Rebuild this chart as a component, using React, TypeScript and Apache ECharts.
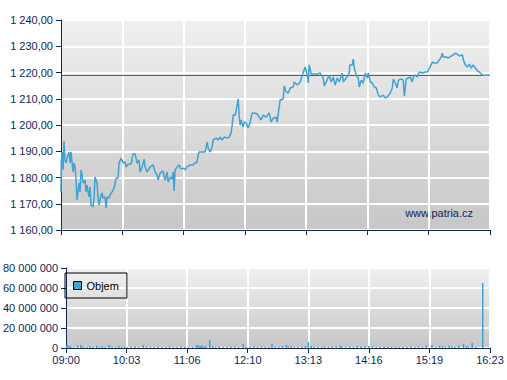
import React, { useEffect, useRef } from "react";
import * as echarts from "echarts";

// minutes after 09:00
const priceTimes = [
  0, 0.3, 1.0, 2.1, 3.1, 4.1, 5.2, 6.2, 8.3, 9.3, 10.3, 12.4, 13.4, 14.5, 15.5, 16.5, 18.6, 19.6, 20.7, 21.7,
  22.7, 24.8, 25.8, 26.8, 28.9, 29.9, 31.0, 33.0, 34.1, 35.1, 37.2, 38.2, 39.2, 41.3, 42.3, 43.4, 45.4, 46.5, 47.5, 49.6,
  51.6, 52.7, 54.7, 56.8, 58.9, 59.9, 62.0, 64.0, 66.1, 67.1, 69.2, 72.3, 74.3, 76.4, 78.5, 80.5, 81.6, 83.6, 85.7, 86.7,
  88.8, 91.9, 95.0, 97.1, 99.1, 100.2, 102.2, 105.3, 106.4, 107.4, 109.5, 110.5, 112.6, 114.6, 115.7, 116.7, 117.7, 119.8, 121.8, 123.9,
  126.0, 128.0, 130.1, 133.2, 136.3, 138.4, 140.4, 141.5, 142.5, 145.6, 148.7, 150.8, 151.8, 153.9, 155.9, 157.0, 160.1, 162.1, 164.2, 166.2,
  168.3, 171.4, 173.5, 175.5, 176.6, 177.6, 179.7, 181.7, 182.8, 183.8, 184.8, 185.9, 187.9, 189.0, 191.0, 193.1, 195.2, 197.2, 199.3, 202.4,
  204.5, 206.5, 208.6, 211.7, 214.8, 216.8, 218.9, 222.0, 223.0, 225.1, 226.1, 229.2, 230.3, 232.3, 234.4, 236.5, 239.6, 240.6, 243.7, 246.8,
  248.9, 252.0, 254.0, 255.1, 256.1, 258.2, 264.3, 267.4, 270.5, 271.6, 273.6, 276.7, 278.8, 280.9, 282.9, 285.0, 287.1, 290.2, 291.2, 294.3,
  297.4, 297.9, 300.5, 301.5, 302.6, 304.6, 306.7, 307.7, 309.8, 311.8, 313.9, 316.0, 317.0, 319.1, 321.1, 323.2, 325.3, 327.3, 329.4, 332.5,
  334.6, 336.6, 339.7, 341.8, 342.8, 344.9, 346.9, 348.0, 351.1, 353.1, 354.2, 356.2, 358.3, 360.4, 362.4, 363.5, 365.5, 367.6, 369.7, 372.8,
  375.9, 377.9, 381.0, 383.1, 385.1, 388.2, 390.3, 392.4, 393.4, 394.4, 397.5, 399.6, 402.7, 404.8, 406.8, 408.9, 411.0, 414.1, 415.1, 417.2,
  419.2, 421.3, 423.4, 425.4, 427.5, 429.6, 431.6, 433.7, 434.8, 442.6,
];

const prices = [
  1174.5, 1185.5, 1189.7, 1182.9, 1193.9, 1186.7, 1185.5, 1187.4, 1189.7, 1185.5, 1189.7, 1182.1, 1185.5, 1184.0, 1179.0, 1171.4, 1177.9, 1174.5, 1182.9, 1181.0,
  1177.9, 1179.0, 1174.5, 1177.1, 1172.6, 1176.4, 1169.5, 1168.8, 1172.2, 1180.2, 1177.9, 1172.6, 1169.5, 1173.3, 1174.1, 1172.2, 1172.6, 1168.4, 1172.6, 1172.2,
  1174.1, 1174.5, 1176.0, 1179.8, 1179.8, 1185.5, 1187.4, 1185.5, 1185.9, 1184.0, 1185.1, 1185.1, 1189.0, 1189.0, 1185.5, 1186.7, 1182.1, 1184.0, 1187.0, 1184.0,
  1182.1, 1184.0, 1184.8, 1182.1, 1181.0, 1179.0, 1181.7, 1182.5, 1180.2, 1179.0, 1182.1, 1178.3, 1180.2, 1179.4, 1182.1, 1174.9, 1182.9, 1184.0, 1184.8, 1183.2,
  1183.6, 1182.9, 1184.0, 1184.8, 1184.8, 1185.5, 1185.9, 1188.6, 1189.7, 1189.7, 1189.7, 1193.5, 1191.2, 1189.7, 1191.6, 1194.3, 1195.0, 1194.3, 1195.4, 1194.3,
  1195.4, 1195.0, 1195.4, 1197.0, 1200.0, 1203.8, 1203.8, 1207.6, 1209.9, 1203.8, 1200.0, 1201.9, 1199.2, 1201.1, 1200.8, 1198.9, 1201.1, 1204.6, 1204.6, 1204.2,
  1203.0, 1201.9, 1203.8, 1203.0, 1204.6, 1201.1, 1202.6, 1203.0, 1201.1, 1206.9, 1209.5, 1209.9, 1214.9, 1212.6, 1212.2, 1214.1, 1214.5, 1216.4, 1215.2, 1216.4,
  1219.0, 1222.1, 1219.0, 1216.0, 1222.9, 1219.4, 1219.4, 1219.8, 1217.9, 1214.9, 1216.4, 1219.0, 1216.4, 1218.3, 1215.2, 1217.9, 1216.4, 1219.8, 1216.4, 1217.9,
  1219.8, 1222.9, 1222.9, 1225.1, 1221.7, 1219.0, 1217.9, 1214.5, 1217.1, 1216.0, 1219.8, 1217.9, 1219.8, 1216.4, 1216.0, 1214.5, 1214.1, 1211.4, 1210.7, 1211.4,
  1210.3, 1210.7, 1212.2, 1214.1, 1217.5, 1216.0, 1214.1, 1217.1, 1217.5, 1217.1, 1211.0, 1217.5, 1217.9, 1218.3, 1216.4, 1218.3, 1219.0, 1218.3, 1220.2, 1219.8,
  1220.2, 1220.2, 1222.1, 1224.0, 1223.6, 1223.6, 1224.8, 1225.9, 1227.4, 1225.9, 1225.9, 1225.5, 1226.3, 1226.7, 1227.4, 1227.0, 1226.3, 1226.7, 1224.8, 1222.9,
  1222.1, 1223.2, 1221.7, 1222.9, 1221.7, 1220.6, 1220.2, 1219.4, 1219.0, 1219.0,
];

const referencePrice = 1219;

const volumeTimes = [
  1, 3, 5, 8, 12, 15.5, 18, 22, 25, 28, 32, 35, 38, 41, 45, 48, 52, 55, 58, 61,
  64, 68, 72, 76, 80.5, 84, 88, 92, 96, 100, 104, 108, 112, 116, 120, 124, 128, 132, 136, 138,
  140, 142, 144, 146, 150, 153, 156, 160, 164, 168, 172, 176, 180, 185, 188, 192, 196, 200, 204, 208,
  212, 215, 218, 222, 226, 230, 232, 235, 238, 242, 246, 250, 253, 256, 259, 263, 267, 270, 274, 278,
  282, 286, 288, 292, 296, 300, 304, 308, 312, 316, 320, 324, 328, 332, 336, 340, 344, 348, 352, 356,
  360, 364, 368, 372, 376, 382, 386, 390, 393, 396, 400, 403, 406, 410, 415, 418, 420, 424, 428, 435,
];

const volumes = [
  3, 2, 1.5, 1, 2.5, 3, 1.5, 1, 2, 1, 2.5, 1, 2, 1, 3, 1.5, 1, 2, 1, 1.5,
  1, 1, 1.5, 1, 3, 1.5, 1, 1, 1.5, 1, 1, 1.5, 1, 1, 1.5, 1, 1, 1, 2.5, 3,
  2, 2.5, 1.5, 2, 8, 2, 1, 1.5, 1, 1, 1.5, 1.5, 1, 4, 1, 1, 1.5, 1, 1.5, 1,
  1, 4, 1.5, 1, 2, 3, 1.5, 2, 1, 1, 1.5, 2, 6, 2, 1.5, 1, 1, 1.5, 1, 1.5,
  1.5, 2.5, 1.5, 1, 1.5, 1, 2, 1.5, 2, 2, 1.5, 1, 1, 1.5, 1, 1, 1, 1, 1, 1,
  1.5, 1, 1.5, 1, 2.5, 3, 1, 2, 2, 1, 2.5, 1.5, 1, 2.5, 4, 1.5, 1.5, 5, 1, 65,
].map((v) => v * 1000000);

const axisColor = "#0c2757";
const textColor = "#0c2757";
const font = "'Liberation Sans', Arial, sans-serif";

function fmtThousands(n: number): string {
  const s = Math.round(n).toString();
  return s.replace(/\B(?=(\d{3})+(?!\d))/g, " ");
}

function fmtPrice(v: number): string {
  const intPart = Math.floor(v);
  const dec = Math.round((v - intPart) * 100).toString().padStart(2, "0");
  return fmtThousands(intPart) + "," + dec;
}

function fmtTime(v: number): string {
  const total = 9 * 60 + Math.round(v);
  const h = Math.floor(total / 60);
  const m = total % 60;
  return String(h).padStart(2, "0") + ":" + String(m).padStart(2, "0");
}

const X_MAX = 442.6;
const X_INTERVAL = X_MAX / 7;

export default function App() {
  const ref = useRef<HTMLDivElement>(null);

  useEffect(() => {
    if (!ref.current) return;
    const chart = echarts.init(ref.current, null, { renderer: "svg" });
    const bg = () =>
      new echarts.graphic.LinearGradient(0, 0, 0, 1, [
        { offset: 0, color: "#f0f0f0" },
        { offset: 1, color: "#c7c7c7" },
      ]);
    const xAxisBase = {
      type: "value" as const,
      min: 0,
      max: X_MAX,
      interval: X_INTERVAL,
      axisLine: { show: true, onZero: false, lineStyle: { color: axisColor, width: 1 } },
      axisTick: { show: true, length: 5, lineStyle: { color: axisColor } },
      splitLine: { show: true, lineStyle: { color: "#ffffff", width: 2 } },
    };
    chart.setOption({
      animation: false,
      backgroundColor: "#ffffff",
      textStyle: { fontFamily: font },
      grid: [
        { left: 61, right: 17, top: 20, height: 210, show: true, backgroundColor: bg(), borderWidth: 0 },
        { left: 61, right: 17, top: 268, height: 80, show: true, backgroundColor: bg(), borderWidth: 0 },
      ],
      legend: {
        show: true,
        left: 65,
        top: 273,
        orient: "horizontal",
        borderColor: "#000000",
        borderWidth: 1,
        padding: [7, 8],
        itemWidth: 8,
        itemHeight: 8,
        itemGap: 5,
        icon: "rect",
        textStyle: { color: "#000000", fontSize: 11, fontFamily: font },
        data: [{ name: "Objem", itemStyle: { borderColor: "#000000", borderWidth: 1 } }],
      },
      xAxis: [
        { ...xAxisBase, gridIndex: 0, axisLabel: { show: false } },
        {
          ...xAxisBase,
          gridIndex: 1,
          axisLabel: {
            show: true,
            color: textColor,
            fontSize: 11,
            fontFamily: font,
            margin: 6,
            formatter: (v: number) => fmtTime(v),
          },
        },
      ],
      yAxis: [
        {
          type: "value",
          gridIndex: 0,
          min: 1160,
          max: 1240,
          interval: 10,
          axisLine: { show: true, lineStyle: { color: axisColor } },
          axisTick: { show: true, length: 5, lineStyle: { color: axisColor } },
          splitLine: { show: true, lineStyle: { color: "#ffffff", width: 2 } },
          axisLabel: { color: textColor, fontSize: 11, fontFamily: font, margin: 8, formatter: (v: number) => fmtPrice(v) },
        },
        {
          type: "value",
          gridIndex: 1,
          min: 0,
          max: 80000000,
          interval: 20000000,
          axisLine: { show: true, lineStyle: { color: axisColor } },
          axisTick: { show: true, length: 5, lineStyle: { color: axisColor } },
          splitLine: { show: true, lineStyle: { color: "#ffffff", width: 2 } },
          axisLabel: { color: textColor, fontSize: 11, fontFamily: font, margin: 8, formatter: (v: number) => fmtThousands(v) },
        },
      ],
      series: [
        {
          name: "Kurz",
          type: "line",
          xAxisIndex: 0,
          yAxisIndex: 0,
          data: priceTimes.map((t, i) => [t, prices[i]]),
          showSymbol: false,
          symbol: "none",
          lineStyle: { color: "#3ea2d2", width: 1.5 },
          itemStyle: { color: "#3ea2d2" },
          z: 3,
          markLine: {
            silent: true,
            symbol: "none",
            label: { show: false },
            lineStyle: { color: "#b8332b", width: 1, type: "solid" },
            data: [{ yAxis: referencePrice }],
            z: 2,
          },
        },
        {
          name: "Objem",
          type: "bar",
          xAxisIndex: 1,
          yAxisIndex: 1,
          data: volumeTimes.map((t, i) => [t, volumes[i]]),
          barWidth: 1.5,
          itemStyle: { color: "#3ea2d2" },
        },
      ],
      graphic: [
        {
          type: "text",
          right: 34,
          top: 207,
          style: { text: "www.patria.cz", fill: textColor, font: "11px " + font },
        },
      ],
    });
    return () => chart.dispose();
  }, []);

  return <div ref={ref} style={{ position: "fixed", left: 0, top: 0, width: 507, height: 380 }} />;
}
